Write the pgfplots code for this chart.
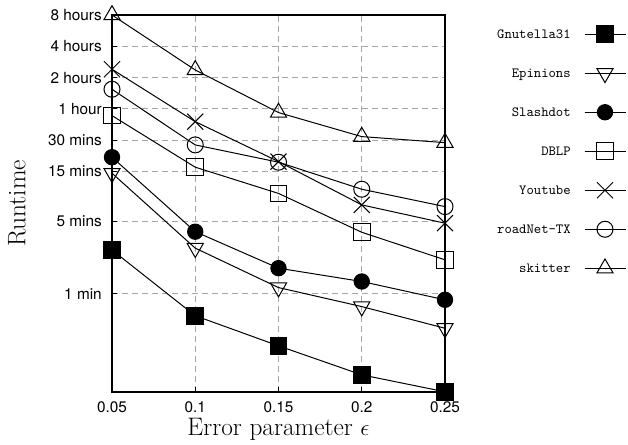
\documentclass[border=0pt]{standalone}
\usepackage{fontspec}
\usepackage{pgfplots}
\pgfplotsset{compat=1.18}
\newfontfamily\helv{TeX Gyre Heros}

\begin{document}
\begin{tikzpicture}
	\begin{axis}[
		name=ax,
		scale only axis,
		width=249.75pt, height=282.75pt,
		ymode=log,
		xmin=0.05, xmax=0.25,
		ymin=6.8, ymax=28800,
		xtick={0.05,0.1,0.15,0.2,0.25},
		xticklabels={0.05,0.1,0.15,0.2,0.25},
		ytick={60,300,900,1800,3600,7200,14400,28800},
		yticklabels={1 min,5 mins,15 mins,30 mins,1 hour,2 hours,4 hours,8 hours},
		yminorticks=false,
		xtick pos=bottom, ytick pos=left,
		tick label style={font=\helv\fontsize{11.5}{13}\selectfont},
		xticklabel style={inner sep=0pt, anchor=north, yshift=-6.75pt},
		yticklabel style={inner sep=0pt, anchor=east, xshift=-7.5pt},
		xlabel={Error parameter $\epsilon$},
		ylabel={Runtime},
		label style={font=\fontsize{19}{22}\selectfont},
		xlabel style={at={(axis description cs:0.5,-0.115)}, anchor=base, inner sep=0pt},
		ylabel style={at={(axis description cs:-0.26,0.5)}, anchor=base, inner sep=0pt},
		grid=major,
		major grid style={gray!70, dash pattern=on 4.5pt off 3pt, line width=0.75pt},
		axis line style={line width=1.2pt},
		tick style={black, line width=0.75pt},
		major tick length=4pt,
		clip=false,
		every axis plot/.append style={black, line width=0.75pt, mark options={solid}},
		legend plot pos=right,
		legend cell align=right,
		legend style={draw=none, fill=none, at={(1,1)}, anchor=north east,
			xshift=135.75pt, yshift=-6.45pt, inner sep=0pt, outer sep=0pt,
			row sep=13.25pt, column sep=10pt,
			font=\ttfamily\fontsize{10.5}{12}\selectfont,
			nodes={inner sep=0pt, text depth=0pt}},
		legend image code/.code={
			\path[draw=none, fill=none] (0pt,-8pt) rectangle (30.75pt,8pt);
			\draw[mark repeat=2, mark phase=2] plot coordinates {(0pt,0pt) (15.375pt,0pt) (30.75pt,0pt)};
		},
		]
		
		% Gnutella31
		\addplot[mark=square*, mark size=6.25pt] coordinates {
			(0.05,158) (0.1,36.8) (0.15,18.9) (0.2,9.94) (0.25,6.83)
		};
		\addlegendentry{Gnutella31}
		
		% Epinions
		\addplot[mark=triangle, mark size=7pt, mark options={rotate=180}] coordinates {
			(0.05,866) (0.1,164.6) (0.15,68.7) (0.2,45.1) (0.25,27.9)
		};
		\addlegendentry{Epinions}
		
		% Slashdot
		\addplot[mark=*, mark size=5.75pt] coordinates {
			(0.05,1234) (0.1,237) (0.15,105.6) (0.2,78.6) (0.25,52.4)
		};
		\addlegendentry{Slashdot}
		
		% DBLP
		\addplot[mark=square, mark size=6.25pt] coordinates {
			(0.05,3099) (0.1,989) (0.15,553) (0.2,234) (0.25,127)
		};
		\addlegendentry{DBLP}
		
		% Youtube
		\addplot[mark=x, mark size=8.5pt] coordinates {
			(0.05,8657) (0.1,2712) (0.15,1120) (0.2,429) (0.25,286)
		};
		\addlegendentry{Youtube}
		
		% roadNet-TX
		\addplot[mark=o, mark size=6pt] coordinates {
			(0.05,5557) (0.1,1620) (0.15,1104) (0.2,607) (0.25,413)
		};
		\addlegendentry{roadNet-TX}
		
		% skitter
		\addplot[mark=triangle, mark size=7pt] coordinates {
			(0.05,28800) (0.1,8520) (0.15,3316) (0.2,1947) (0.25,1704)
		};
		\addlegendentry{skitter}
		
	\end{axis}
	\pgfresetboundingbox
	\useasboundingbox (-84pt,-39.75pt) rectangle (387pt,294pt);
\end{tikzpicture}
\end{document}
